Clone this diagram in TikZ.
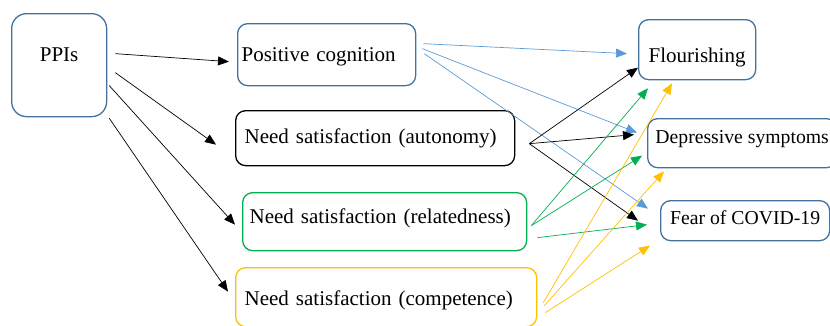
\documentclass[tikz,border=0pt]{standalone}
\usepackage{fontspec}
\setmainfont{Liberation Serif}
\usetikzlibrary{arrows.meta}
\definecolor{boxblue}{HTML}{41719C}
\definecolor{lineblue}{HTML}{5B9BD5}
\definecolor{linegreen}{HTML}{00B050}
\definecolor{lineyellow}{HTML}{FFC000}
\begin{document}
\begin{tikzpicture}[x=1pt, y=-1pt, >={Triangle[length=11pt,width=9pt]},
    box/.style={draw=boxblue, line width=1.3pt, rounded corners=10pt, inner ysep=0pt,
        align=left, anchor=north west, font=\fontsize{21}{25}\selectfont},
    outcome/.style={box, align=center, inner xsep=0, font=\fontsize{19.7}{24}\selectfont},
    path/.style={line width=0.7pt, ->}]

    \useasboundingbox (0,0) rectangle (830,325);

    % boxes
    \node[box, rounded corners=15pt, align=center, text width=90, inner xsep=2.5, minimum height=103,
        text height=15, text depth=21.6] (ppi) at (11,13) {PPIs};
    \node[box, text width=170, inner xsep=4, minimum height=62, text height=18.6, text depth=5] (pos) at (237,23) {Positive cognition};
    \node[box, draw=black, text width=261, inner xsep=9, minimum height=55, text height=15.6, text depth=5] (aut) at (235,110) {Need satisfaction (autonomy)};
    \node[box, draw=linegreen, text width=270, inner xsep=7, minimum height=58, text height=15, text depth=12] (rel) at (242,192) {Need satisfaction (relatedness)};
    \node[box, draw=lineyellow, text width=283, inner xsep=9, minimum height=59, text height=21, text depth=5] (com) at (235,267) {Need satisfaction (competence)};
    \node[box, align=center, inner xsep=0, minimum width=117, minimum height=60, text height=30, text depth=5] (flo) at (638,19) {Flourishing};
    \node[outcome, minimum width=189, minimum height=49, text height=14, text depth=14] (dep) at (647,118) {Depressive symptoms};
    \node[outcome, minimum width=169, minimum height=40, text height=14, text depth=7] (fear) at (660,200) {Fear of COVID-19};

    % PPIs to mediators
    \draw[path] ([shift={(8,-11.5)}]ppi.east) -- ([shift={(-8,7)}]pos.west);
    \draw[path] ([shift={(8,7.5)}]ppi.east) -- ([shift={(-19,6.5)}]aut.west);
    \draw[path] ([shift={(2,20.5)}]ppi.east) -- ([shift={(-7,3)}]rel.west);
    \draw[path] ([shift={(2,1)}]ppi.south east) -- ([shift={(-7,-5.5)}]com.west);

    % positive cognition
    \draw[path, lineblue] ([shift={(7,-11)}]pos.east) -- ([shift={(-11,4)}]flo.west);
    \draw[path, lineblue] ([shift={(6,-6)}]pos.east) -- ([shift={(-10,-10.5)}]dep.west);
    \draw[path, lineblue] ([shift={(8,-1)}]pos.east) -- ([shift={(-12,-12)}]fear.west);

    % autonomy
    \draw[path] ([shift={(14,5.5)}]aut.east) -- ([shift={(0,18)}]flo.west);
    \draw[path] ([shift={(14,5.5)}]aut.east) -- ([shift={(-13,-8.5)}]dep.west);
    \draw[path] ([shift={(14,5.5)}]aut.east) -- ([shift={(-22,0)}]fear.west);

    % relatedness
    \draw[path, linegreen] ([shift={(4,4)}]rel.east) -- ([shift={(10,8)}]flo.south west);
    \draw[path, linegreen] ([shift={(4,4)}]rel.east) -- ([shift={(-5,12.5)}]dep.west);
    \draw[path, linegreen] ([shift={(10,16)}]rel.east) -- ([shift={(-13,4)}]fear.west);

    % competence
    \draw[path, lineyellow] ([shift={(6,5.5)}]com.east) -- ([shift={(34,3)}]flo.south west);
    \draw[path, lineyellow] ([shift={(7,8.5)}]com.east) -- ([shift={(17,3)}]dep.south west);
    \draw[path, lineyellow] ([shift={(8,15.5)}]com.east) -- ([shift={(-10,25)}]fear.west);
\end{tikzpicture}
\end{document}
